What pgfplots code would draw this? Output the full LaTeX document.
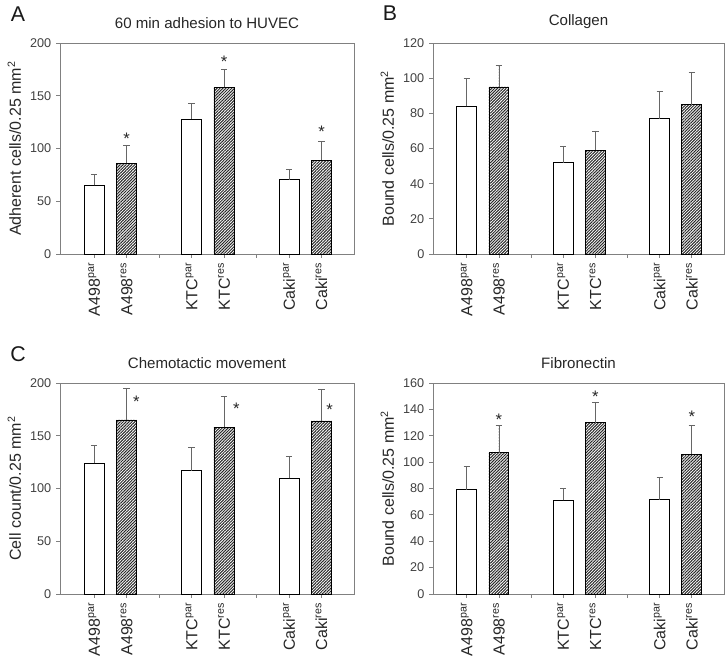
\documentclass[border=0pt]{standalone}
\usepackage{pgfplots}
\pgfplotsset{compat=1.18}
\usetikzlibrary{patterns.meta}
\usepackage{fontspec}
\setmainfont{Liberation Sans}

\pgfplotsset{
 panel/.style={
  scale only axis, height=158.25pt,
  xmin=-1.05, xmax=8, ymin=0,
  axis line style={draw=black!50, line width=0.6pt},
  tick style={draw=black!50, line width=0.6pt},
  tick align=outside, tick pos=left, major tick length=3pt,
  xtick={0,...,7},
  xticklabels={A498\textsuperscript{par}, A498\textsuperscript{res}, {}, KTC\textsuperscript{par}, KTC\textsuperscript{res}, {}, Caki\textsuperscript{par}, Caki\textsuperscript{res}},
  x tick label style={rotate=90, anchor=east, font=\fontsize{12}{14}\selectfont, text=black!85},
  y tick label style={font=\fontsize{9.5}{11}\selectfont, text=black!75},
  /pgf/number format/assume math mode=true,
  ylabel style={font=\fontsize{12}{14}\selectfont, text=black!85},
  title style={font=\fontsize{11.3}{13}\selectfont, text=black!85, yshift=1pt},
  clip=false,
 },
 parbar/.style={ybar, bar width=0.62, bar shift=0pt, fill=white, draw=black, line width=0.6pt,
   error bars/y dir=plus, error bars/y explicit,
   error bars/error bar style={draw=black!60, line width=0.6pt},
   error bars/error mark options={rotate=90, mark size=2.4pt, draw=black!60, line width=0.6pt}},
 resbar/.style={ybar, bar width=0.62, bar shift=0pt, draw=black, line width=0.6pt,
   pattern={Lines[angle=45, distance=1.55pt, line width=0.75pt]}, pattern color=black!85,
   error bars/y dir=plus, error bars/y explicit,
   error bars/error bar style={draw=black!60, line width=0.6pt},
   error bars/error mark options={rotate=90, mark size=2.4pt, draw=black!60, line width=0.6pt}},
}
\tikzset{starnode/.style={font=\fontsize{12.5}{12.5}\selectfont, text=black!85, inner sep=0pt, yshift=-2.7pt}}

\begin{document}
\begin{tikzpicture}
\useasboundingbox (0pt,0pt) rectangle (546pt,494.25pt);

% Panel A
\begin{axis}[panel, at={(45pt,303.75pt)}, anchor=south west, width=220.5pt,
  ymax=200, ytick={0,50,...,200},
  ylabel={Adherent cells/0.25 mm\textsuperscript{2}},
  title={60 min adhesion to HUVEC}]
\addplot[parbar] coordinates {(0,65) +- (0,10) (3,128) +- (0,15) (6,70.5) +- (0,9.5)};
\addplot[resbar] coordinates {(1,86) +- (0,17) (4,158) +- (0,17) (7,89) +- (0,17.5)};
\node[starnode] at (axis cs:1,113) {*};
\node[starnode] at (axis cs:4,186) {*};
\node[starnode] at (axis cs:7,119.5) {*};
\end{axis}

% Panel B
\begin{axis}[panel, at={(324.75pt,303.75pt)}, anchor=south west, width=218.25pt,
  ymax=120, ytick={0,20,...,120},
  ylabel={Bound cells/0.25 mm\textsuperscript{2}},
  title={Collagen}]
\addplot[parbar] coordinates {(0,84) +- (0,16) (3,52) +- (0,9) (6,77) +- (0,15.6)};
\addplot[resbar] coordinates {(1,95) +- (0,12) (4,59) +- (0,11) (7,85) +- (0,18)};
\end{axis}

% Panel C
\begin{axis}[panel, at={(45pt,48.75pt)}, anchor=south west, width=220.5pt,
  ymax=200, ytick={0,50,...,200},
  ylabel={Cell count/0.25 mm\textsuperscript{2}},
  title={Chemotactic movement}]
\addplot[parbar] coordinates {(0,124) +- (0,17) (3,117) +- (0,22) (6,109.5) +- (0,21)};
\addplot[resbar] coordinates {(1,165) +- (0,30) (4,158) +- (0,29) (7,164) +- (0,30)};
\node[starnode] at (axis cs:1.3,185.5) {*};
\node[starnode] at (axis cs:4.38,179) {*};
\node[starnode] at (axis cs:7.25,178.5) {*};
\end{axis}

% Panel D
\begin{axis}[panel, at={(324.75pt,48.75pt)}, anchor=south west, width=218.25pt,
  ymax=160, ytick={0,20,...,160},
  ylabel={Bound cells/0.25 mm\textsuperscript{2}},
  title={Fibronectin}]
\addplot[parbar] coordinates {(0,79) +- (0,18) (3,71) +- (0,9) (6,71.4) +- (0,17)};
\addplot[resbar] coordinates {(1,107) +- (0,21) (4,130) +- (0,15) (7,106) +- (0,22)};
\node[starnode] at (axis cs:1,134.5) {*};
\node[starnode] at (axis cs:4,152) {*};
\node[starnode] at (axis cs:7,137) {*};
\end{axis}

\node[font=\fontsize{16}{16}\selectfont, text=black!90] at (13.5pt,483.75pt) {A};
\node[font=\fontsize{16}{16}\selectfont, text=black!90] at (292.5pt,484.5pt) {B};
\node[font=\fontsize{16}{16}\selectfont, text=black!90] at (13.5pt,228.75pt) {C};
\end{tikzpicture}
\end{document}
